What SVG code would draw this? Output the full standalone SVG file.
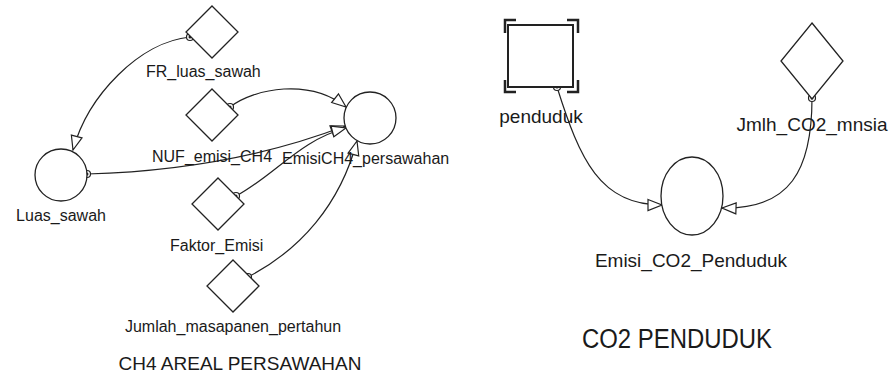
<svg xmlns="http://www.w3.org/2000/svg" width="890" height="380" viewBox="0 0 890 380">
<style>
.node{fill:#fff;stroke:#222;stroke-width:1.3}
.stock{fill:#fff;stroke:#222;stroke-width:2}
.br{fill:none;stroke:#222;stroke-width:2.5}
.lbl{font-family:"Liberation Sans",Arial,sans-serif;font-size:16px;fill:#1a1a1a}
.rl{font-family:"Liberation Sans",Arial,sans-serif;font-size:19px;fill:#1a1a1a}
.lnk{fill:none;stroke:#222;stroke-width:1.2;marker-end:url(#arr)}
</style>
<defs>
<marker id="arr" markerWidth="18" markerHeight="14" refX="15" refY="6" orient="auto" markerUnits="userSpaceOnUse" overflow="visible">
<path d="M1,0.5 L15,6 L1,11.5 Z" fill="#fff" stroke="#222" stroke-width="1.2"/>
</marker>
<g id="dot"><circle r="3.5" fill="#fff" stroke="#222" stroke-width="1.2"/><circle r="1.5" fill="#222"/></g>
</defs>
<g id="connectors">
<path class="lnk" d="M190,37 C140,42 88,95 73,150"/>
<path class="lnk" d="M87,174 Q230,170 345,126"/>
<path class="lnk" d="M230,107 C255,88 310,78 346,107"/>
<path class="lnk" d="M236,196 C275,175 300,140 346,128"/>
<path class="lnk" d="M248,277 C300,250 340,205 357,141"/>
<path class="lnk" d="M557,87 C580,160 600,205 662,205"/>
<path class="lnk" d="M812,98 C812,170 790,210 722,208"/>
<use href="#dot" x="190" y="37"/>
<use href="#dot" x="87" y="174"/>
<use href="#dot" x="230" y="107"/>
<use href="#dot" x="236" y="196"/>
<use href="#dot" x="248" y="277"/>
<use href="#dot" x="557" y="87"/>
<use href="#dot" x="812" y="98"/>
</g>
<g id="FR_luas_sawah">
<path class="node" d="M212,6 L238,32 L212,58 L186,32 Z"/>
<text class="lbl" x="146" y="77">FR_luas_sawah</text>
</g>
<g id="NUF_emisi_CH4">
<path class="node" d="M212,89 L238,115 L212,141 L186,115 Z"/>
<text class="lbl" x="152" y="162">NUF_emisi_CH4</text>
</g>
<g id="Faktor_Emisi">
<path class="node" d="M218,178 L244,204 L218,230 L192,204 Z"/>
<text class="lbl" x="170" y="251">Faktor_Emisi</text>
</g>
<g id="Jumlah_masapanen_pertahun">
<path class="node" d="M233,260 L259,286 L233,312 L207,286 Z"/>
<text class="lbl" x="233" y="332" text-anchor="middle">Jumlah_masapanen_pertahun</text>
</g>
<g id="Luas_sawah">
<circle class="node" cx="61" cy="175" r="26"/>
<text class="lbl" x="61" y="221" text-anchor="middle">Luas_sawah</text>
</g>
<g id="EmisiCH4_persawahan">
<circle class="node" cx="370" cy="118" r="26"/>
<text class="lbl" x="282" y="164">EmisiCH4_persawahan</text>
</g>
<g id="title_ch4">
<text class="lbl" x="240" y="370" text-anchor="middle" style="font-size:19px">CH4 AREAL PERSAWAHAN</text>
</g>
<g id="penduduk">
<rect class="stock" x="508" y="25" width="65" height="62"/>
<path class="br" d="M505,33 V20 H516 M567,20 H578 V33 M505,80 V92 H516 M567,92 H578 V80"/>
<text class="rl" x="541" y="123" text-anchor="middle">penduduk</text>
</g>
<g id="Jmlh_CO2_mnsia">
<path class="node" d="M812,23 L843,61 L812,99 L781,61 Z"/>
<text class="rl" x="812" y="131" text-anchor="middle">Jmlh_CO2_mnsia</text>
</g>
<g id="Emisi_CO2_Penduduk">
<ellipse class="node" cx="692" cy="196" rx="31" ry="39"/>
<text class="rl" x="691" y="267" text-anchor="middle">Emisi_CO2_Penduduk</text>
</g>
<g id="title_co2">
<text class="rl" x="677" y="348" text-anchor="middle" style="font-size:27px" textLength="190" lengthAdjust="spacingAndGlyphs">CO2 PENDUDUK</text>
</g>
</svg>
